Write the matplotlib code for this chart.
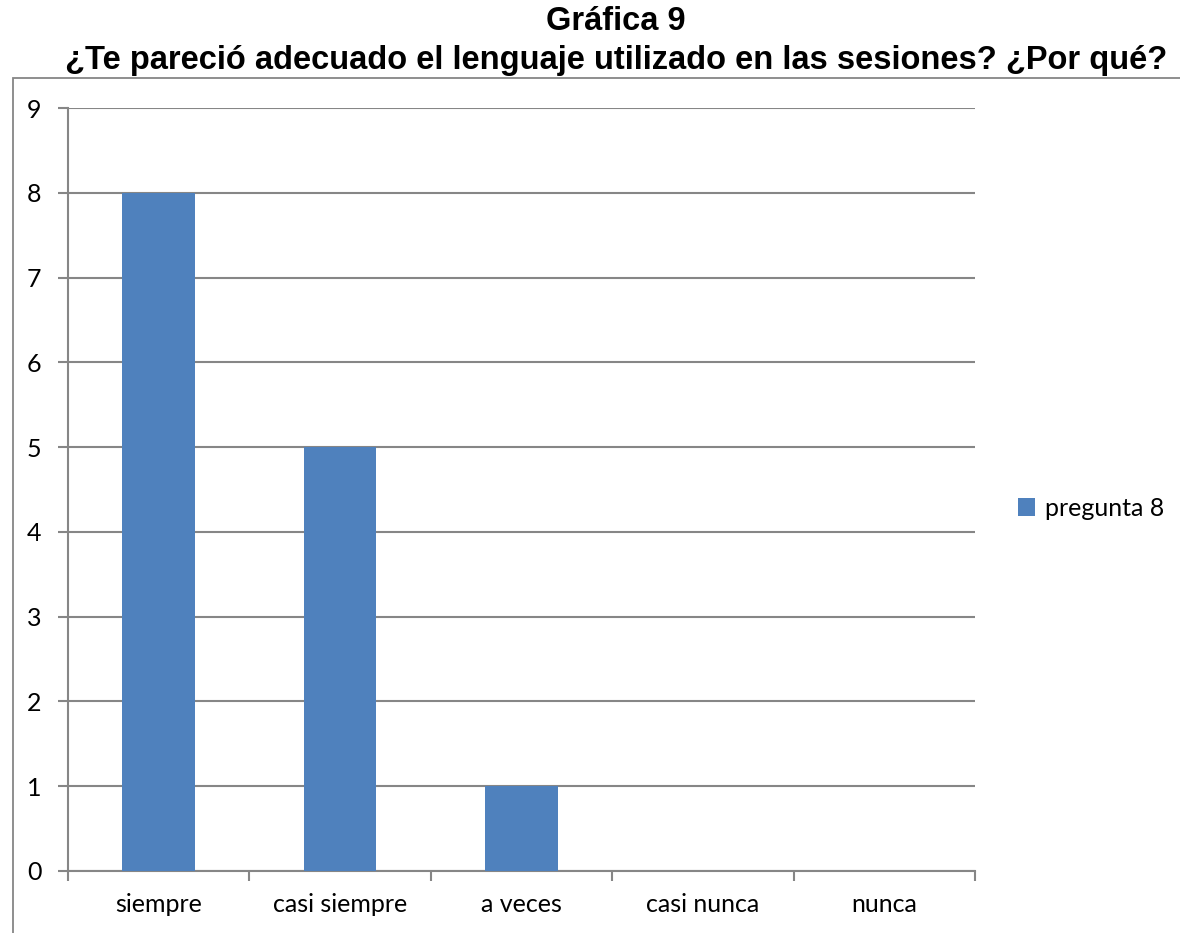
import matplotlib.pyplot as plt
import numpy as np
from matplotlib.patches import Rectangle

# datos
categorias = ["siempre", "casi siempre", "a veces", "casi nunca", "nunca"]
valores = [8, 5, 1, 0, 0]
serie = "pregunta 8"
titulo = "Gráfica 9\n¿Te pareció adecuado el lenguaje utilizado en las sesiones? ¿Por qué?"

azul = "#4f81bd"
gris = "#868686"

fig = plt.figure(figsize=(11.8, 9.33), dpi=100)
ax = fig.add_axes([68 / 1180, 1 - 871 / 933, (975 - 68) / 1180, (871 - 108) / 933])

# borde del area del grafico
fig.patches.append(Rectangle((13 / 1180, -0.1), 1.2, 1 - 78 / 933 + 0.1,
                             transform=fig.transFigure, fill=False,
                             edgecolor=gris, linewidth=1.3, zorder=0))

x = np.arange(len(categorias))
ax.bar(x, valores, width=0.4, color=azul, label=serie, zorder=3)

ax.set_xlim(-0.5, len(categorias) - 0.5)
ax.set_ylim(0, 9)
ax.set_yticks(np.arange(0, 10, 1))
ax.set_xticks(x)
ax.set_xticklabels(categorias)
ax.set_xticks(np.arange(-0.5, len(categorias), 1), minor=True)
ax.tick_params(axis="x", which="major", length=0, pad=16)
ax.tick_params(axis="x", which="minor", length=7, width=1.5, color=gris, direction="out")
ax.tick_params(axis="y", length=7, width=1.5, color=gris, pad=12)
for lab in ax.get_xticklabels() + ax.get_yticklabels():
    lab.set_fontfamily("Lato")
    lab.set_fontsize(18)

ax.grid(axis="y", color=gris, linewidth=1.5, zorder=0)
for s in ["top", "right"]:
    ax.spines[s].set_visible(False)
for s in ["left", "bottom"]:
    ax.spines[s].set_color(gris)
    ax.spines[s].set_linewidth(1.5)

fig.text(616 / 1180, 1 - 41 / 933, titulo, ha="center", va="center",
         fontsize=23.5, fontweight="bold", family="Liberation Sans", linespacing=1.3)

fig.legend(loc="center left", bbox_to_anchor=(995 / 1180, 1 - 508 / 933),
           frameon=False, prop={"family": "Lato", "size": 18},
           handlelength=0.7, handleheight=0.7, handletextpad=0.4)

fig.savefig("out.png", dpi=100, facecolor="white")
